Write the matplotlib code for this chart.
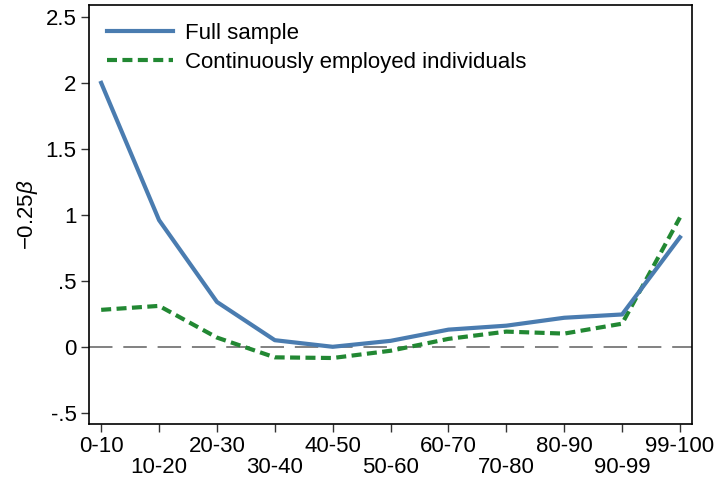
#!/usr/bin/env python3

import matplotlib
matplotlib.use('Agg')
import matplotlib.pyplot as plt


# =============================================================================
#                               Data
# =============================================================================
groups = ['0-10', '10-20', '20-30', '30-40', '40-50', '50-60',
          '60-70', '70-80', '80-90', '90-99', '99-100']
fullSample = [2.00, 0.96, 0.34, 0.05, 0.00, 0.045, 0.13, 0.16, 0.22, 0.245, 0.83]
continuous = [0.28, 0.31, 0.07, -0.08, -0.085, -0.03, 0.06, 0.115, 0.10, 0.175, 0.98]
yTicks = [-0.5, 0, 0.5, 1, 1.5, 2, 2.5]
yTickLabels = ['-.5', '0', '.5', '1', '1.5', '2', '2.5']

# =============================================================================
#                               Chart settings
# =============================================================================
plt.rcParams['font.family'] = ['Liberation Sans', 'DejaVu Sans']
plt.rcParams['font.size'] = 16
plt.rcParams['mathtext.fontset'] = 'custom'
plt.rcParams['mathtext.it'] = 'Liberation Sans:italic'
plt.rcParams['mathtext.rm'] = 'Liberation Sans'

blue = '#4a7cb0'
green = '#228833'

fig = plt.figure(figsize=(7.15, 4.78), dpi=100)
ax = fig.add_axes([0.1245, 0.113, 0.8435, 0.8765])

x = list(range(len(groups)))
ax.axhline(0, color='#777777', linewidth=1.3, dashes=(13, 6), zorder=1)
ax.plot(x, fullSample, color=blue, linewidth=3.0, label='Full sample', zorder=3)
ax.plot(x, continuous, color=green, linewidth=3.0, dashes=(2.4, 1.3),
        label='Continuously employed individuals', zorder=2)

ax.set_xlim(-0.21, len(groups) - 1 + 0.21)
ax.set_ylim(-0.585, 2.59)
ax.set_yticks(yTicks)
ax.set_yticklabels(yTickLabels)
ax.set_xticks(x)
ax.set_xticklabels([g if i % 2 == 0 else '\n' + g for i, g in enumerate(groups)],
                   linespacing=0.95)
ax.tick_params(direction='out', length=6, width=1, color='#333333', pad=3)
ax.set_ylabel(r'$-0.25\beta$', labelpad=4)
for spine in ax.spines.values():
    spine.set_linewidth(1.2)

ax.legend(loc='upper left', frameon=False, handlelength=3.0, handletextpad=0.5,
          labelspacing=0.35, borderaxespad=0.4, fontsize=16)

plt.savefig('out.png', dpi=100)
